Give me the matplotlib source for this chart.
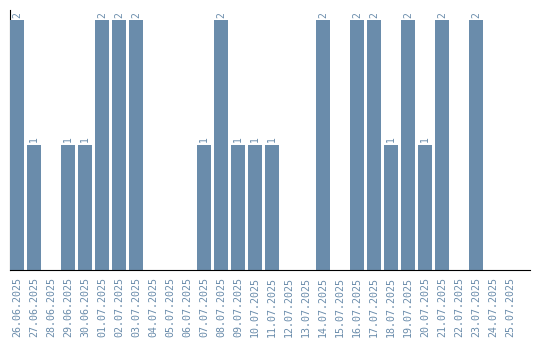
import matplotlib
matplotlib.use("Agg")
import matplotlib.pyplot as plt

dates = ["26.06.2025", "27.06.2025", "28.06.2025", "29.06.2025", "30.06.2025",
         "01.07.2025", "02.07.2025", "03.07.2025", "04.07.2025", "05.07.2025",
         "06.07.2025", "07.07.2025", "08.07.2025", "09.07.2025", "10.07.2025",
         "11.07.2025", "12.07.2025", "13.07.2025", "14.07.2025", "15.07.2025",
         "16.07.2025", "17.07.2025", "18.07.2025", "19.07.2025", "20.07.2025",
         "21.07.2025", "22.07.2025", "23.07.2025", "24.07.2025", "25.07.2025"]
counts = [2, 1, 0, 1, 1, 2, 2, 2, 0, 0,
          0, 1, 2, 1, 1, 1, 0, 0, 2, 0,
          2, 2, 1, 2, 1, 2, 0, 2, 0, 0]

color = "#6a8cab"
font = "DejaVu Sans Mono"

fig = plt.figure(figsize=(5.4, 3.4), dpi=100)
ax = fig.add_axes([10/540, 1 - 270/340, 520/540, 260/340])

x = list(range(len(dates)))
ax.bar(x, counts, width=0.82, color=color, zorder=3)

for xi, v in zip(x, counts):
    if v > 0:
        ax.text(xi, v + 0.02, str(v), rotation=90, ha="center", va="bottom",
                color=color, fontsize=7, family=font, zorder=4)

ax.set_xlim(-0.41, 30.18)
ax.set_ylim(0, 2.08)
ax.set_xticks(x)
ax.set_xticklabels(dates, rotation=90, color=color, fontsize=7.2, family=font)
ax.tick_params(axis="x", length=0, pad=5)
ax.set_yticks([])
ax.spines["top"].set_visible(False)
ax.spines["right"].set_visible(False)
ax.spines["left"].set_zorder(1)
ax.spines["bottom"].set_zorder(5)

fig.savefig("out.png", dpi=100)
